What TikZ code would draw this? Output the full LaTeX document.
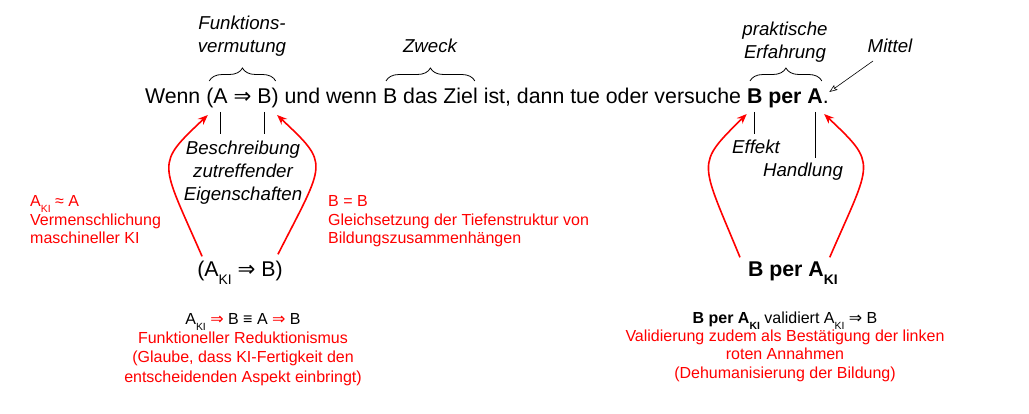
\documentclass[tikz,border=0pt]{standalone}
\usepackage{fontspec}
\setmainfont{Liberation Sans}
\newfontfamily\symf{DejaVu Sans}
\usetikzlibrary{decorations.pathreplacing,arrows.meta,calc}
\definecolor{kred}{RGB}{255,0,0}
\newcommand\imp{{\symf ⇒}}
\newcommand\kisub{\raisebox{-0.35em}{\scalebox{0.65}{KI}}}
\newcommand\keepsp{\ \null}
\newcommand\mainf{\fontsize{21.33}{25}\selectfont}
\newcommand\labf{\fontsize{18.67}{23}\selectfont\itshape}
\newcommand\capf{\fontsize{16}{18.7}\selectfont}
\begin{document}
\begin{tikzpicture}[x=1pt,y=-1pt,
  w/.style={inner sep=0pt, outer sep=0pt, anchor=base west, font=\mainf},
  wb/.style={w, font=\mainf\bfseries},
  lab/.style={font=\labf, align=center, inner sep=0pt, anchor=base},
  redcap/.style={font=\capf, text=kred, inner sep=0pt, anchor=base west, align=left},
  brc/.style={decorate, decoration={brace, amplitude=13pt}, line width=0.8pt},
  tick/.style={line width=0.8pt},
  redarr/.style={kred, line width=1.6pt, -{Stealth[length=10pt,width=8pt,inset=3.5pt]}}]
\useasboundingbox (0,0) rectangle (1029,414);
% main sentence
\node[w] (t1) at (145,104) {Wenn\keepsp};
\node[w] (lp) at (t1.base east) {(};
\node[w] (a1) at (lp.base east) {A};
\node[w] (imp1) at (a1.base east) {\ \imp\keepsp};
\node[w] (b1) at (imp1.base east) {B};
\node[w] (rp) at (b1.base east) {)};
\node[w] (t2) at (rp.base east) {\ und wenn\keepsp};
\node[w] (zb) at (t2.base east) {B das Ziel};
\node[w] (t3) at (zb.base east) {\ ist, dann tue oder versuche\keepsp};
\node[wb] (bb) at (t3.base east) {B};
\node[wb] (per) at (bb.base east) {\ per\keepsp};
\node[wb] (ab) at (per.base east) {A};
\node[w] (dot) at (ab.base east) {.};
% braces
\coordinate (by) at (0,81);
\draw[brc] ($(lp.west |- by)+(3,0)$) -- ($(rp.east |- by)+(-3,0)$);
\draw[brc] ($(zb.west |- by)+(3,0)$) -- ($(zb.east |- by)+(-3,0)$);
\draw[brc] ($(bb.west |- by)+(3,0)$) -- ($(ab.east |- by)+(-1,0)$);
% labels (base = last line)
\node[lab] (fv) at (242,53) {Funktions-\\vermutung};
\node[lab] (zw) at (430,53) {Zweck};
\node[lab] (pe) at (785,59) {praktische\\Erfahrung};
\node[lab] (mi) at (890,53) {Mittel};
\node[lab] (be) at (243,201) {Beschreibung\\zutreffender\\Eigenschaften};
\node[lab] (ef) at (756,154) {Effekt};
\node[lab] (ha) at (803,177) {Handlung};
% ticks
\draw[tick] ($(a1.base)+(0,8)$) -- ($(a1.base)+(0,30)$);
\draw[tick] ($(b1.base)+(0,8)$) -- ($(b1.base)+(0,30)$);
\draw[tick] ($(bb.base)+(0,8)$) -- ($(bb.base)+(0,30)$);
\draw[tick] ($(ab.base)+(0,8)$) -- ($(ab.base)+(0,54)$);
% Mittel arrow
\draw[line width=0.6pt, -{Stealth[open,length=8pt,width=6pt,inset=1.5pt]}] ($(mi.base)+(-17,8)$) -- ($(dot.base)+(3.5,-12)$);
% red captions (base = last line)
\node[redcap] (c1) at (30,244) {A\kisub\ ≈ A\\Vermenschlichung\\maschineller KI};
\node[redcap] (c2) at (328,244) {B = B\\Gleichsetzung der Tiefenstruktur von\\Bildungszusammenhängen};
% lower formulas
\node[font=\mainf, inner sep=0pt, anchor=base] (ak) at (240,277) {(A\kisub\ \imp\ B)};
\node[wb] (bp) at (748,277) {B per A\kisub};
% bottom captions (base = last line)
\node[font=\fontsize{16}{19.2}\selectfont, text=kred, align=center, inner sep=0pt, anchor=base] (bl) at (243,382)
  {\textcolor{black}{A\kisub} \imp\ \textcolor{black}{B ≡ A} \imp\ \textcolor{black}{B}\\Funktioneller Reduktionismus\\(Glaube, dass KI-Fertigkeit den\\entscheidenden Aspekt einbringt)};
\node[font=\fontsize{16}{18.2}\selectfont, text=kred, align=center, inner sep=0pt, anchor=base] (br) at (785,378)
  {\textcolor{black}{{\bfseries B per A\kisub} validiert A\kisub\ \imp\ B}\\Validierung zudem als Bestätigung der linken\\roten Annahmen\\(Dehumanisierung der Bildung)};
% red arrows
\draw[redarr] ($(ak.north west)+(5,-5)$) .. controls (160,160) and (155,165) .. ($(lp.base)+(-2,11)$);
\draw[redarr] ($(ak.north east)+(-5,-7)$) .. controls (326,160) and (330,165) .. ($(rp.base)+(2,11)$);
\draw[redarr] ($(bp.north west)+(-8,-5)$) .. controls (700,160) and (695,165) .. ($(bb.base)+(-8,10)$);
\draw[redarr] ($(bp.north east)+(-8,-5)$) .. controls (872,160) and (878,165) .. ($(ab.base)+(9,10)$);
\end{tikzpicture}
\end{document}
